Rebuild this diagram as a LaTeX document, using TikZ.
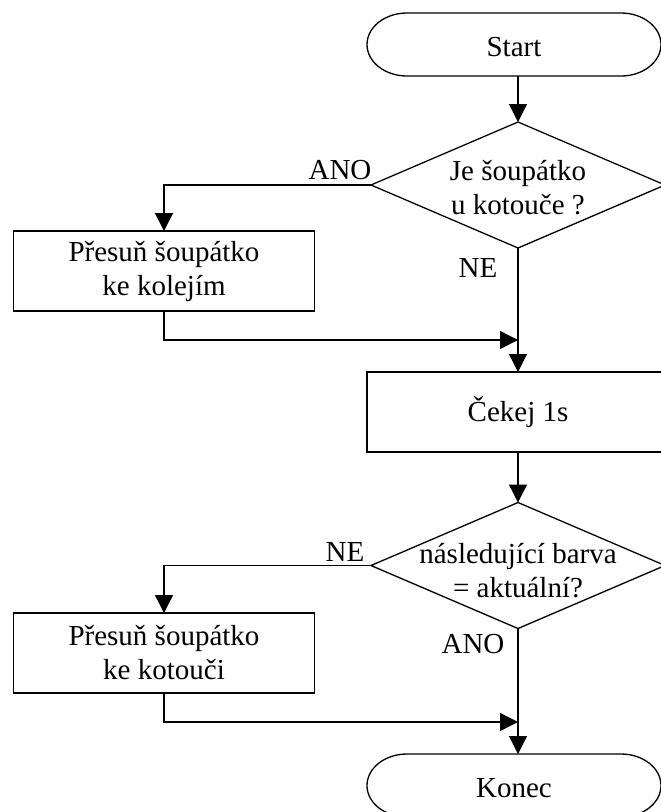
\documentclass[tikz,border=0pt]{standalone}
\usepackage{fontspec}
\setmainfont{Liberation Serif}
\usetikzlibrary{arrows.meta,shapes.geometric}
\begin{document}
\begin{tikzpicture}[x=1pt,y=-1pt,
  line width=1.3pt,
  every node/.style={font=\fontsize{29}{34}\selectfont},
  arr/.style={-{Triangle[length=18pt,width=18pt]}},
  procbox/.style={draw, rectangle, minimum width=301pt, minimum height=80pt,
    inner sep=0pt, outer sep=0pt, align=center},
  decision/.style={draw, diamond, minimum width=294pt, minimum height=126pt,
    inner sep=0pt, outer sep=0pt},
  terminal/.style={rectangle, minimum width=294pt, minimum height=63pt,
    inner sep=0pt, outer sep=0pt, text height=25pt},
  lbl/.style={inner sep=0pt}]
\useasboundingbox (0,0) rectangle (661,812);
\clip (0,0) rectangle (661,812);

% nodes
\node[terminal] (start) at (514,44.5) {Start};
\node[decision] (d1) at (518,185) {};
\node[align=center] (d1t) at (518,188) {Je šoupátko\\u kotouče ?};
\node[procbox] (b1) at (164,271) {Přesuň šoupátko\\ke kolejím};
\coordinate (m1) at (518,340);
\node[procbox, minimum width=302pt] (b2) at (518,412) {Čekej 1s};
\node[decision] (d2) at (518,565.5) {};
\node[align=center] (d2t) at (518,571) {následující barva\\= aktuální?};
\node[procbox] (b3) at (164,653) {Přesuň šoupátko\\ke kotouči};
\coordinate (m2) at (518,722);
\node[terminal] (konec) at (514,785.5) {Konec};

% terminal outlines with elliptical ends
\foreach \t in {start,konec}
  \draw ([xshift=40pt]\t.north west) -- ([xshift=-40pt]\t.north east)
    arc[start angle=90,end angle=-90,x radius=40pt,y radius=31.5pt]
    -- ([xshift=40pt]\t.south west)
    arc[start angle=270,end angle=90,x radius=40pt,y radius=31.5pt] -- cycle;

% branch labels
\node[lbl] (l1) at (340,170) {ANO};
\node[lbl] (l2) at (478,268) {NE};
\node[lbl] (l3) at (345,552) {NE};
\node[lbl] (l4) at (473,644) {ANO};

% connectors
\draw[arr] (start.south -| d1.north) -- (d1.north);
\draw[arr] (d1.west) -| (b1.north);
\draw[arr] (d1.south) -- (b2.north);
\draw[arr] (b1.south) |- (m1);
\draw[arr] (b2.south) -- (d2.north);
\draw[arr] (d2.west) -| (b3.north);
\draw[arr] (d2.south) -- (konec.north -| d2.south);
\draw[arr] (b3.south) |- (m2);
\end{tikzpicture}
\end{document}
